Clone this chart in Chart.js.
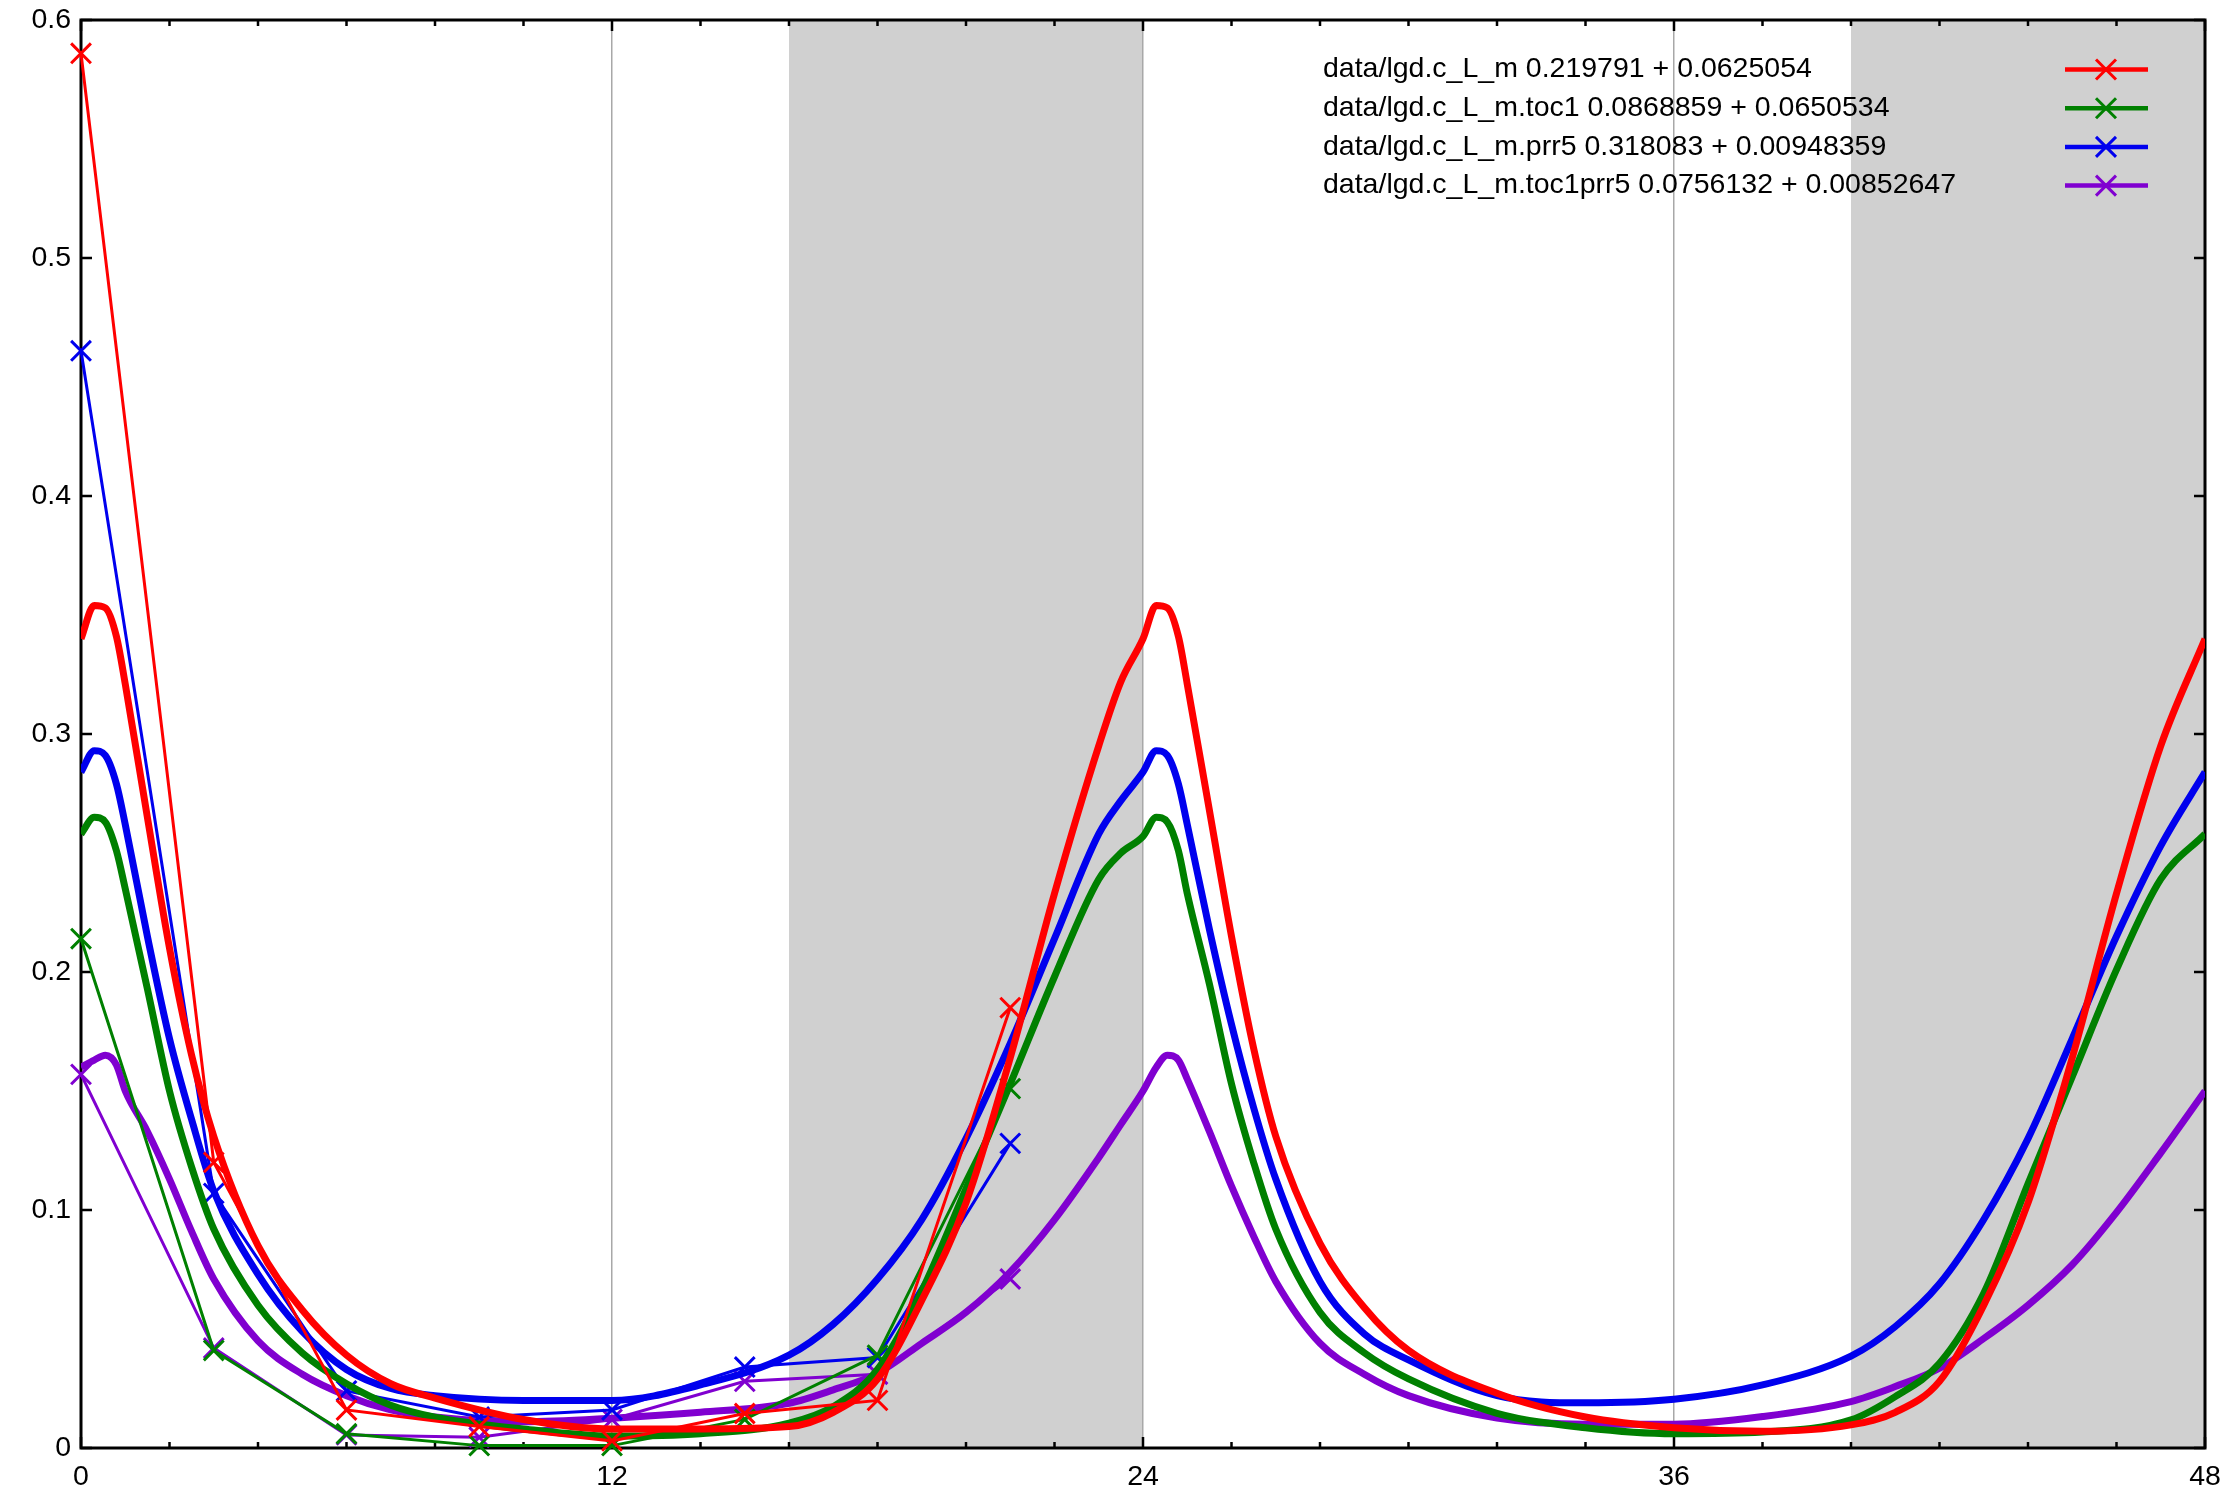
<!DOCTYPE html>
<html>
<head>
<meta charset="utf-8">
<script src="https://cdn.jsdelivr.net/npm/chart.js@4.4.1/dist/chart.umd.min.js"></script>
<style>
  body { margin: 0; background: #fff; }
  #wrap { width: 2238px; height: 1506px; }
</style>
</head>
<body>
<div id="wrap"><canvas id="myChart" width="2238" height="1506"></canvas></div>
<script>
'use strict';

// measured points (hours, value)
let dataX = [0, 3, 6, 9, 12, 15, 18, 21];
let dataRed = [0.586, 0.120, 0.016, 0.009, 0.003, 0.0145, 0.020, 0.185];
let dataGreen = [0.214, 0.041, 0.006, 0.001, 0.001, 0.012, 0.039, 0.151];
let dataBlue = [0.461, 0.107, 0.024, 0.013, 0.016, 0.034, 0.038, 0.128];
let dataPurple = [0.157, 0.042, 0.0055, 0.0045, 0.012, 0.028, 0.031, 0.071];

// fitted curves
let fitX = [0, 0.3, 0.55, 0.8, 1, 1.5, 2, 2.5, 3, 4, 5, 6, 7, 8, 10, 12, 14, 16, 17, 18, 19, 20, 21, 22, 23, 23.5,
  24, 24.3, 24.55, 24.8, 25, 25.5, 26, 26.5, 27, 28, 29, 30, 32, 34, 36, 38, 40, 41, 42, 43, 44, 45, 46, 47, 48];
let fitRed = [0.340, 0.354, 0.353, 0.341, 0.321, 0.265, 0.210, 0.165, 0.131, 0.085, 0.058, 0.039, 0.027, 0.021, 0.012, 0.008, 0.008,
  0.009, 0.015, 0.029, 0.062, 0.103, 0.164, 0.233, 0.295, 0.322,
  0.340, 0.354, 0.353, 0.341, 0.321, 0.268, 0.215, 0.168, 0.131, 0.086, 0.059, 0.041, 0.023, 0.013, 0.0085, 0.007,
  0.0097, 0.015, 0.028, 0.060, 0.103, 0.164, 0.233, 0.295, 0.340];
let fitGreen = [0.258, 0.265, 0.263, 0.251, 0.235, 0.193, 0.150, 0.118, 0.092, 0.060, 0.040, 0.027, 0.018, 0.013, 0.008, 0.005, 0.006,
  0.0104, 0.0174, 0.033, 0.066, 0.109, 0.153, 0.198, 0.239, 0.250,
  0.257, 0.265, 0.263, 0.251, 0.233, 0.195, 0.153, 0.120, 0.092, 0.057, 0.040, 0.029, 0.0146, 0.0085, 0.006, 0.0067,
  0.0118, 0.0216, 0.0356, 0.065, 0.111, 0.156, 0.201, 0.239, 0.258];
let fitBlue = [0.284, 0.293, 0.291, 0.279, 0.262, 0.215, 0.172, 0.138, 0.108, 0.073, 0.049, 0.033, 0.025, 0.022, 0.020, 0.020, 0.0265,
  0.039, 0.052, 0.071, 0.096, 0.130, 0.170, 0.214, 0.258, 0.272,
  0.284, 0.293, 0.291, 0.279, 0.262, 0.218, 0.178, 0.143, 0.113, 0.070, 0.048, 0.037, 0.022, 0.019, 0.0205, 0.0265,
  0.0386, 0.051, 0.069, 0.096, 0.130, 0.172, 0.215, 0.253, 0.284];
let fitPurple = [0.160, 0.163, 0.165, 0.161, 0.150, 0.133, 0.113, 0.091, 0.071, 0.045, 0.031, 0.022, 0.016, 0.013, 0.011, 0.0125, 0.015,
  0.0188, 0.0244, 0.0314, 0.044, 0.057, 0.074, 0.096, 0.122, 0.136,
  0.150, 0.160, 0.165, 0.163, 0.155, 0.133, 0.110, 0.089, 0.070, 0.044, 0.031, 0.022, 0.0126, 0.010, 0.010, 0.0132,
  0.0195, 0.0258, 0.0335, 0.046, 0.060, 0.077, 0.099, 0.124, 0.150];

let seriesNames = [
  'data/lgd.c_L_m 0.219791 + 0.0625054',
  'data/lgd.c_L_m.toc1 0.0868859 + 0.0650534',
  'data/lgd.c_L_m.prr5 0.318083 + 0.00948359',
  'data/lgd.c_L_m.toc1prr5 0.0756132 + 0.00852647'
];
let colors = ['#ff0000', '#008000', '#0000ee', '#8000d0'];
let darkSpans = [[16, 24], [40, 48]];
let yTicks = [0, 0.1, 0.2, 0.3, 0.4, 0.5, 0.6];
let xTicks = [0, 12, 24, 36, 48];

let FONT = '"Liberation Sans", Arial, sans-serif';

function pts(xs, ys) {
  return xs.map((v, i) => ({x: v, y: ys[i]}));
}

let measured = [dataRed, dataGreen, dataBlue, dataPurple];
let fits = [fitRed, fitGreen, fitBlue, fitPurple];

let datasets = [];
for (let i = 0; i < 4; i++) {
  datasets.push({
    label: seriesNames[i],
    data: pts(dataX, measured[i]),
    borderColor: colors[i],
    backgroundColor: colors[i],
    borderWidth: 3,
    pointStyle: 'crossRot',
    pointRadius: 14,
    pointBorderWidth: 3,
    tension: 0,
    clip: false
  });
  datasets.push({
    label: '',
    data: pts(fitX, fits[i]),
    borderColor: colors[i],
    borderWidth: 7,
    pointRadius: 0,
    cubicInterpolationMode: 'monotone'
  });
}

let gnuFrame = {
  id: 'gnuFrame',
  beforeDraw(chart) {
    let {ctx, chartArea: a, scales: {x}} = chart;
    ctx.save();
    ctx.fillStyle = '#fff';
    ctx.fillRect(0, 0, chart.width, chart.height);
    ctx.fillStyle = '#d0d0d0';
    darkSpans.forEach(([s, e]) => {
      let x0 = x.getPixelForValue(s);
      let x1 = x.getPixelForValue(e);
      ctx.fillRect(x0, a.top, x1 - x0, a.bottom - a.top);
    });
    ctx.restore();
  },
  beforeDatasetsDraw(chart) {
    let {ctx, chartArea: a, scales: {x, y}} = chart;
    ctx.save();
    ctx.strokeStyle = '#000';
    ctx.lineWidth = 3;
    ctx.strokeRect(a.left, a.top, a.right - a.left, a.bottom - a.top);
    ctx.lineWidth = 2.5;
    ctx.beginPath();
    for (let h = 0; h <= 48; h += 2) {
      let px = x.getPixelForValue(h);
      let len = h % 12 === 0 ? 11 : 6;
      ctx.moveTo(px, a.bottom); ctx.lineTo(px, a.bottom - len);
      ctx.moveTo(px, a.top); ctx.lineTo(px, a.top + len);
    }
    yTicks.forEach(v => {
      let py = y.getPixelForValue(v);
      ctx.moveTo(a.left, py); ctx.lineTo(a.left + 11, py);
      ctx.moveTo(a.right, py); ctx.lineTo(a.right - 11, py);
    });
    ctx.stroke();
    ctx.restore();
  },
  afterDatasetsDraw(chart) {
    let ctx = chart.ctx;
    ctx.save();
    ctx.font = '28.5px ' + FONT;
    ctx.textBaseline = 'middle';
    ctx.textAlign = 'left';
    for (let i = 0; i < 4; i++) {
      let yy = 69.5 + i * 38.7;
      ctx.fillStyle = '#000';
      ctx.fillText(seriesNames[i], 1323, yy);
      ctx.strokeStyle = colors[i];
      ctx.lineWidth = 4.5;
      ctx.beginPath();
      ctx.moveTo(2065, yy); ctx.lineTo(2148, yy);
      ctx.stroke();
      ctx.lineWidth = 3;
      ctx.beginPath();
      ctx.moveTo(2096, yy - 10); ctx.lineTo(2116, yy + 10);
      ctx.moveTo(2096, yy + 10); ctx.lineTo(2116, yy - 10);
      ctx.stroke();
    }
    ctx.restore();
  }
};

let ctx = document.getElementById('myChart');

new Chart(ctx, {
  type: 'line',
  data: {datasets: datasets},
  options: {
    responsive: false,
    animation: false,
    devicePixelRatio: 1,
    layout: {padding: {top: 20, right: 33, left: 0, bottom: 0}},
    plugins: {
      legend: {display: false},
      tooltip: {enabled: false}
    },
    scales: {
      x: {
        type: 'linear',
        min: 0,
        max: 48,
        afterBuildTicks: scale => { scale.ticks = xTicks.map(v => ({value: v})); },
        afterFit: scale => { scale.height = 58; },
        ticks: {
          color: '#000',
          font: {family: FONT, size: 28.5},
          padding: 12,
          maxRotation: 0,
          autoSkip: false
        },
        grid: {
          drawTicks: false,
          lineWidth: 1.5,
          color: c => (c.tick && c.tick.value > 0 && c.tick.value < 48) ? '#a8a8a8' : 'rgba(0,0,0,0)'
        },
        border: {display: false}
      },
      y: {
        min: 0,
        max: 0.6,
        afterBuildTicks: scale => { scale.ticks = yTicks.map(v => ({value: v})); },
        afterFit: scale => {
          scale.width = 81;
          scale.paddingTop = 0;
          scale.paddingBottom = 0;
        },
        ticks: {
          color: '#000',
          font: {family: FONT, size: 28.5},
          padding: 10,
          callback: v => String(+v.toFixed(1))
        },
        grid: {display: false, drawTicks: false},
        border: {display: false}
      }
    }
  },
  plugins: [gnuFrame]
});
</script>
</body>
</html>
